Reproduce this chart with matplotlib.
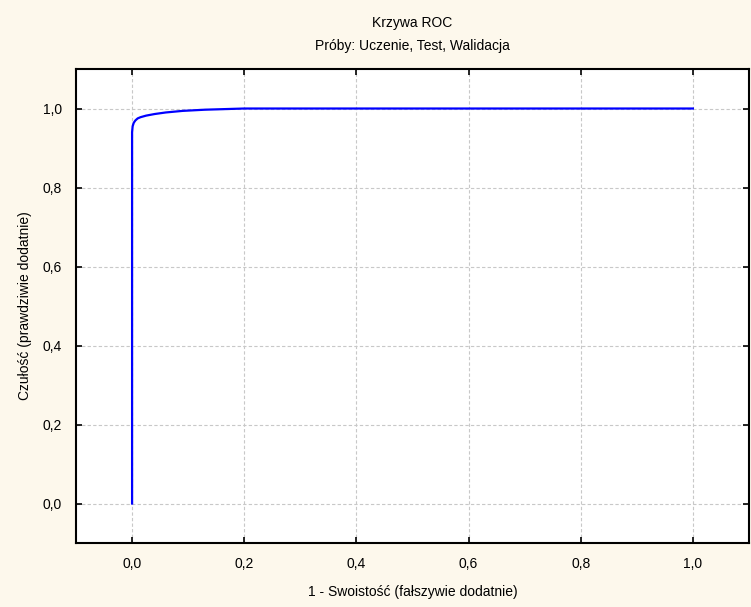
import numpy as np
import matplotlib
matplotlib.use("Agg")
import matplotlib.pyplot as plt
from matplotlib.ticker import FuncFormatter

plt.rcParams["font.family"] = ["Liberation Sans", "DejaVu Sans"]

# ROC curve
fpr = [0.0, 0.0, 0.001, 0.003, 0.006, 0.01, 0.015, 0.025, 0.04, 0.06, 0.09, 0.13, 0.2, 0.6, 1.0]
tpr = [0.0, 0.94, 0.955, 0.964, 0.970, 0.975, 0.978, 0.982, 0.986, 0.990, 0.994, 0.997, 1.0, 1.0, 1.0]

title = "Krzywa ROC\nPróby: Uczenie, Test, Walidacja"
xlabel = "1 - Swoistość (fałszywie dodatnie)"
ylabel = "Czułość (prawdziwie dodatnie)"

fig = plt.figure(figsize=(7.51, 6.07), dpi=100, facecolor="#fdf8ec")
ax = fig.add_axes([0.1012, 0.1054, 0.8961, 0.7809])
ax.set_facecolor("white")

ax.plot(fpr, tpr, color="#0000ff", lw=1.6)

ax.set_xlim(-0.1, 1.1)
ax.set_ylim(-0.1, 1.1)
ax.set_xticks(np.arange(0, 1.01, 0.2))
ax.set_yticks(np.arange(0, 1.01, 0.2))
fmt = FuncFormatter(lambda v, p: f"{v:.1f}".replace(".", ","))
ax.xaxis.set_major_formatter(fmt)
ax.yaxis.set_major_formatter(fmt)
ax.tick_params(direction="in", length=4, width=1.2, top=True, right=True,
               labelsize=10, pad=10)
ax.grid(True, color="#c8c8c8", ls=(0, (3, 2)), lw=0.8)
for s in ax.spines.values():
    s.set_linewidth(1.5)

ax.set_title(title, fontsize=10, pad=14, linespacing=1.75)
ax.set_xlabel(xlabel, fontsize=10, labelpad=10)
ax.set_ylabel(ylabel, fontsize=10, labelpad=8)

fig.savefig("out.png", dpi=100, facecolor=fig.get_facecolor())
